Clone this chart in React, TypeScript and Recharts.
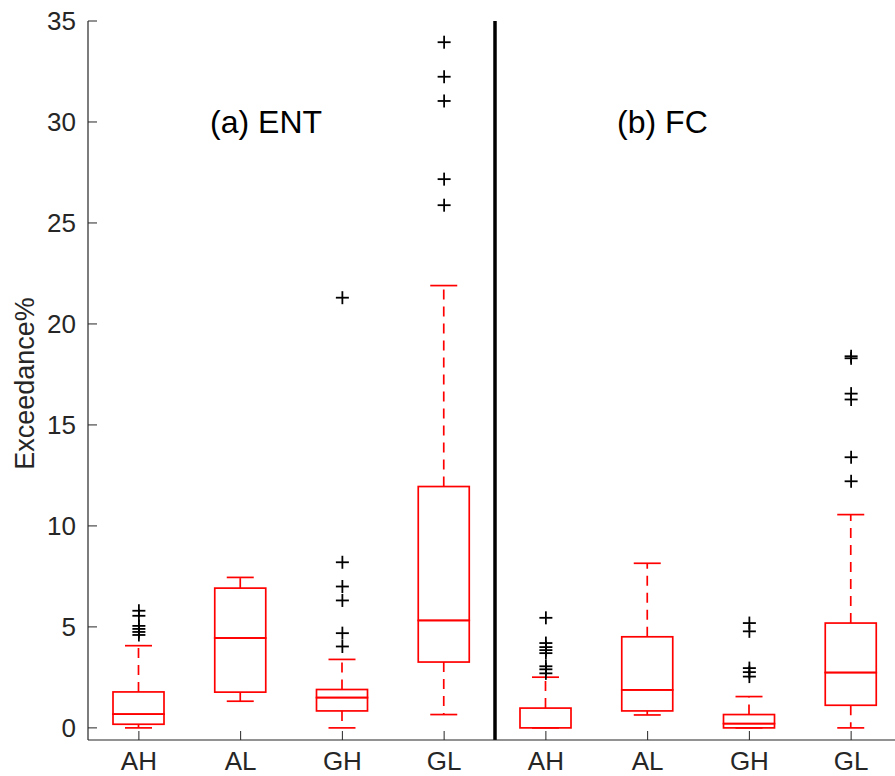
import React from 'react';
import { ComposedChart, Bar, Scatter, XAxis, YAxis, ReferenceLine, ReferenceDot } from 'recharts';

const CATEGORIES = ['AH', 'AL', 'GH', 'GL', 'AH', 'AL', 'GH', 'GL'];
const POSITIONS = [1, 2, 3, 4, 5, 6, 7, 8];
const Y_TICKS = [0, 5, 10, 15, 20, 25, 30, 35];
const PANEL_TITLES = ['(a) ENT', '(b) FC'];
const TITLE_X = [1.7, 5.7];
const TITLE_Y = 30;

// box statistics, left panel = ENT, right panel = FC
const LOWER = [0, 1.32, 0, 0.66, 0, 0.64, 0, 0];
const Q1 = [0.18, 1.77, 0.84, 3.26, 0, 0.84, 0, 1.12];
const MEDIAN = [0.68, 4.45, 1.5, 5.32, 0, 1.88, 0.21, 2.74];
const Q3 = [1.78, 6.92, 1.9, 11.95, 0.98, 4.51, 0.66, 5.19];
const UPPER = [4.07, 7.45, 3.39, 21.9, 2.51, 8.15, 1.55, 10.56];
const OUTLIERS = [
  [4.6, 4.75, 4.9, 5.05, 5.55, 5.8],
  [],
  [4.03, 4.69, 6.31, 7.0, 8.2, 21.3],
  [25.88, 27.17, 31.04, 32.24, 33.95],
  [2.7, 2.9, 3.05, 3.7, 3.85, 4.0, 4.2, 5.45],
  [],
  [2.54, 2.76, 2.96, 4.78, 5.19],
  [12.21, 13.4, 16.26, 16.55, 18.3, 18.4],
];

const RED = '#ff0000';
const AXIS = '#262626';
const FONT = '"Liberation Sans", Arial, Helvetica, sans-serif';
const CAP = 13.5;
const DASH = '10 7';
const LW = 1.7;

const rows = POSITIONS.map((x, i) => ({
  x,
  base: LOWER[i],
  lowWhisker: Q1[i] - LOWER[i],
  boxLow: MEDIAN[i] - Q1[i],
  boxHigh: Q3[i] - MEDIAN[i],
  highWhisker: UPPER[i] - Q3[i],
}));

const outlierPoints = OUTLIERS.flatMap((vals, i) => vals.map((y) => ({ x: POSITIONS[i], y })));

const LowerWhisker = (p: any) => {
  const cx = p.x + p.width / 2;
  const bottom = p.y + p.height;
  return (
    <g>
      <line x1={cx} x2={cx} y1={p.y} y2={bottom} stroke={RED} strokeWidth={LW} strokeDasharray={DASH} />
      <line x1={cx - CAP} x2={cx + CAP} y1={bottom} y2={bottom} stroke={RED} strokeWidth={LW} />
    </g>
  );
};

const UpperWhisker = (p: any) => {
  const cx = p.x + p.width / 2;
  return (
    <g>
      <line x1={cx} x2={cx} y1={p.y + p.height} y2={p.y} stroke={RED} strokeWidth={LW} strokeDasharray={DASH} />
      <line x1={cx - CAP} x2={cx + CAP} y1={p.y} y2={p.y} stroke={RED} strokeWidth={LW} />
    </g>
  );
};

const BoxPart = (p: any) => (
  <rect x={p.x} y={p.y} width={p.width} height={p.height} fill="none" stroke={RED} strokeWidth={LW} />
);

const Plus = (p: any) => (
  <g stroke="#000" strokeWidth={1.8}>
    <line x1={p.cx - 6.5} x2={p.cx + 6.5} y1={p.cy} y2={p.cy} />
    <line x1={p.cx} x2={p.cx} y1={p.cy - 6.5} y2={p.cy + 6.5} />
  </g>
);

const YTick = ({ x, y, payload }: any) => (
  <g>
    <line x1={x + 12} x2={x + 21} y1={y} y2={y} stroke={AXIS} />
    <text x={x} y={y} dy="0.36em" textAnchor="end" fontSize={26} fill={AXIS} fontFamily={FONT}>
      {payload.value}
    </text>
  </g>
);

const XTick = ({ x, y, payload }: any) => (
  <g>
    <line x1={x} x2={x} y1={y} y2={y - 9} stroke={AXIS} />
    <text x={x} y={y + 30} textAnchor="middle" fontSize={26} fill={AXIS} fontFamily={FONT}>
      {CATEGORIES[payload.value - 1]}
    </text>
  </g>
);

const titleLabel = (text: string) => (props: any) => {
  const { x, y, width, height } = props.viewBox;
  return (
    <text x={x + width / 2} y={y + height / 2} dy="0.35em" textAnchor="start" fontSize={32} fill="#000" fontFamily={FONT}>
      {text}
    </text>
  );
};

const yLabel = (props: any) => {
  const { x, y, height } = props.viewBox;
  const cx = x + 25;
  const cy = y + height / 2 + 3;
  return (
    <text x={cx} y={cy} transform={`rotate(-90 ${cx} ${cy})`} dy="0.35em" textAnchor="middle" fontSize={27} fill={AXIS} fontFamily={FONT}>
      Exceedance%
    </text>
  );
};

export default function App() {
  return (
    <div style={{ position: 'absolute', left: 0, top: 0, width: 895, height: 776, overflow: 'hidden', background: '#fff' }}>
      <ComposedChart width={910} height={776} data={rows} margin={{ top: 21, right: 8, bottom: 0, left: 0 }}>
        <XAxis
          type="number"
          dataKey="x"
          domain={[0.5, 8.5]}
          ticks={POSITIONS}
          allowDataOverflow
          height={36}
          tickSize={0}
          tickMargin={0}
          tickLine={false}
          tick={<XTick />}
          axisLine={{ stroke: AXIS, strokeWidth: 1.2 }}
        />
        <XAxis
          xAxisId="top"
          orientation="top"
          mirror
          type="number"
          dataKey="x"
          domain={[0.5, 8.5]}
          ticks={POSITIONS}
          allowDataOverflow
          height={0}
          tick={false}
          tickSize={9}
          tickLine={{ stroke: AXIS }}
          axisLine={{ stroke: AXIS, strokeWidth: 1.2 }}
        />
        <YAxis
          type="number"
          domain={[-0.6, 35]}
          ticks={Y_TICKS}
          allowDataOverflow
          width={88}
          tickSize={0}
          tickMargin={12}
          tickLine={false}
          tick={<YTick />}
          axisLine={{ stroke: AXIS, strokeWidth: 1.2 }}
          label={{ content: yLabel }}
        />
        <YAxis
          yAxisId="right"
          orientation="right"
          mirror
          type="number"
          domain={[-0.6, 35]}
          ticks={Y_TICKS}
          allowDataOverflow
          width={0}
          tick={false}
          tickSize={9}
          tickLine={{ stroke: AXIS }}
          axisLine={{ stroke: AXIS, strokeWidth: 1.2 }}
        />
        <Bar dataKey="base" stackId="box" barSize={51} fill="none" isAnimationActive={false} />
        <Bar dataKey="lowWhisker" stackId="box" barSize={51} shape={<LowerWhisker />} isAnimationActive={false} />
        <Bar dataKey="boxLow" stackId="box" barSize={51} shape={<BoxPart />} isAnimationActive={false} />
        <Bar dataKey="boxHigh" stackId="box" barSize={51} shape={<BoxPart />} isAnimationActive={false} />
        <Bar dataKey="highWhisker" stackId="box" barSize={51} shape={<UpperWhisker />} isAnimationActive={false} />
        <Scatter data={outlierPoints} dataKey="y" shape={<Plus />} isAnimationActive={false} />
        <ReferenceLine x={4.5} stroke="#000" strokeWidth={3.5} />
        {PANEL_TITLES.map((t, i) => (
          <ReferenceDot key={t} x={TITLE_X[i]} y={TITLE_Y} r={1} fill="none" stroke="none" label={{ content: titleLabel(t) }} />
        ))}
      </ComposedChart>
    </div>
  );
}
